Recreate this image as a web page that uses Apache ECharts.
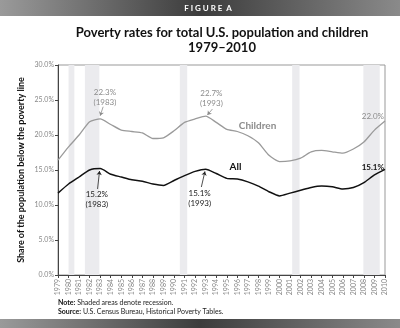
<!DOCTYPE html>
<html><head><meta charset="utf-8">
<script src="https://cdn.jsdelivr.net/npm/echarts@6/dist/echarts.min.js"></script>
<style>html,body{margin:0;padding:0;background:#fff;}#c{width:400px;height:328px;}</style>
</head><body><div id="c"></div>
<script>
var years = [1979,1980,1981,1982,1983,1984,1985,1986,1987,1988,1989,1990,1991,1992,1993,1994,1995,1996,1997,1998,1999,2000,2001,2002,2003,2004,2005,2006,2007,2008,2009,2010];
var allRate = [11.7,13.0,14.0,15.0,15.2,14.4,14.0,13.6,13.4,13.0,12.8,13.5,14.2,14.8,15.1,14.5,13.8,13.7,13.3,12.7,11.9,11.3,11.7,12.1,12.5,12.7,12.6,12.3,12.5,13.2,14.3,15.1];
var childRate = [16.4,18.3,20.0,21.9,22.3,21.5,20.7,20.5,20.3,19.5,19.6,20.6,21.8,22.3,22.7,21.8,20.8,20.5,19.9,18.9,17.1,16.2,16.3,16.7,17.6,17.8,17.6,17.4,18.0,19.0,20.7,22.0];
var recessions = [[1980.0,1980.55],[1981.55,1982.92],[1990.55,1991.25],[2001.2,2001.9],[2007.95,2009.5]];
var yTicks = [0,5,10,15,20,25,30];

var FONT = 'Lato';
function pairs(arr){ return years.map(function(y,i){ return [y, arr[i]]; }); }
function txt(coord, text, color, size, weight){
  return {coord: coord, symbol:'circle', symbolSize:0.01, itemStyle:{color:'transparent'},
    label:{show:true, position:'inside', formatter:text, color:color, fontSize:size, fontWeight:weight||'normal', fontFamily:FONT, lineHeight:10}};
}
function arrow(a,b){ return [{coord:a},{coord:b}]; }

var chart = echarts.init(document.getElementById('c'));
chart.setOption({
  animation:false,
  backgroundColor:'#fff',
  graphic:[
    {type:'rect', shape:{x:0,y:0,width:400,height:16}, style:{fill:new echarts.graphic.LinearGradient(0,0,1,0,[{offset:0,color:'#9a9a9a'},{offset:0.5,color:'#3c3c3c'},{offset:1,color:'#8a8a8a'}])}},
    {type:'text', x:208, y:8, style:{text:'F I G U R E  A', fill:'#fff', font:'bold 8px '+FONT, align:'center', verticalAlign:'middle'}},
    {type:'text', x:222, y:33, style:{text:'Poverty rates for total U.S. population and children', fill:'#111', font:'bold 13px '+FONT, align:'center', verticalAlign:'middle'}},
    {type:'text', x:222, y:48, style:{text:'1979\u20132010', fill:'#111', font:'bold 13px '+FONT, align:'center', verticalAlign:'middle'}},
    {type:'text', x:21, y:170, rotation:Math.PI/2, style:{text:'Share of the population below the poverty line', fill:'#111', font:'bold 9px '+FONT, align:'center', verticalAlign:'middle'}},
    {type:'text', x:58, y:303, style:{text:'{b|Note:} Shaded areas denote recession.', rich:{b:{fontWeight:'bold',fontSize:7,fontFamily:FONT,fill:'#111'}}, fill:'#222', font:'7px '+FONT, verticalAlign:'middle'}},
    {type:'text', x:58, y:312, style:{text:'{b|Source:} U.S. Census Bureau, Historical Poverty Tables.', rich:{b:{fontWeight:'bold',fontSize:7,fontFamily:FONT,fill:'#111'}}, fill:'#222', font:'7px '+FONT, verticalAlign:'middle'}},
    {type:'rect', shape:{x:0,y:319,width:400,height:9}, style:{fill:new echarts.graphic.LinearGradient(0,0,1,0,[{offset:0,color:'#9a9a9a'},{offset:0.5,color:'#3c3c3c'},{offset:1,color:'#8a8a8a'}])}}
  ],
  grid:{left:58, right:15, top:65, bottom:53, show:true, borderColor:'#999', borderWidth:1, backgroundColor:'transparent'},
  xAxis:{type:'value', min:1979, max:2010, interval:1,
    axisLine:{show:true, lineStyle:{color:'#444', width:1}},
    axisTick:{show:true, length:3, lineStyle:{color:'#444'}},
    splitLine:{show:false},
    axisLabel:{rotate:90, fontSize:7, color:'#888', fontFamily:FONT, margin:4, formatter:function(v){ return years.indexOf(v)>=0 ? String(v) : ''; }}
  },
  yAxis:{type:'value', min:0, max:30, interval:5,
    axisLine:{show:true, lineStyle:{color:'#444', width:1}},
    axisTick:{show:true, length:3, lineStyle:{color:'#444'}},
    splitLine:{show:false},
    axisLabel:{fontSize:7, color:'#888', fontFamily:FONT, margin:4, formatter:function(v){ return yTicks.indexOf(v)>=0 ? v.toFixed(1)+'%' : ''; }}
  },
  series:[
    {type:'line', name:'Recessions', data:[], silent:true,
      markArea:{silent:true, itemStyle:{color:'#ebebee'}, data:recessions.map(function(r){ return [{xAxis:r[0]},{xAxis:r[1]}]; })}
    },
    {type:'line', name:'Children', data:pairs(childRate), smooth:0.2, showSymbol:false, lineStyle:{color:'#9a9a9a', width:1.3}, z:3,
      markPoint:{silent:true, data:[
        txt([1983.45,25.3],'22.3%\n(1983)','#8c8c8c',8),
        txt([1993.54,25.17],'22.7%\n(1993)','#8c8c8c',8),
        txt([1997.92,21.29],'Children','#8c8c8c',10,'bold'),
        txt([2008.85,22.61],'22.0%','#8c8c8c',8)
      ]},
      markLine:{silent:true, symbol:['none','arrow'], symbolSize:4, label:{show:false}, lineStyle:{color:'#8c8c8c', width:0.8, type:'solid'}, data:[
        arrow([1983.28,24.04],[1983.0,22.75]),
        arrow([1993.64,23.71],[1993.16,22.85])
      ]}
    },
    {type:'line', name:'All', data:pairs(allRate), smooth:0.2, showSymbol:false, lineStyle:{color:'#111', width:1.5}, z:4,
      markPoint:{silent:true, data:[
        txt([1982.68,10.8],'15.2%\n(1983)','#222',8),
        txt([1992.43,11.0],'15.1%\n(1993)','#222',8),
        txt([1995.83,15.47],'All','#111',10,'bold'),
        txt([2008.85,15.43],'15.1%','#111',8,'bold')
      ]},
      markLine:{silent:true, symbol:['none','arrow'], symbolSize:4, label:{show:false}, lineStyle:{color:'#222', width:0.8, type:'solid'}, data:[
        arrow([1982.75,12.29],[1982.94,14.85]),
        arrow([1992.59,12.57],[1992.93,14.8])
      ]}
    }
  ]
});
</script></body></html>
